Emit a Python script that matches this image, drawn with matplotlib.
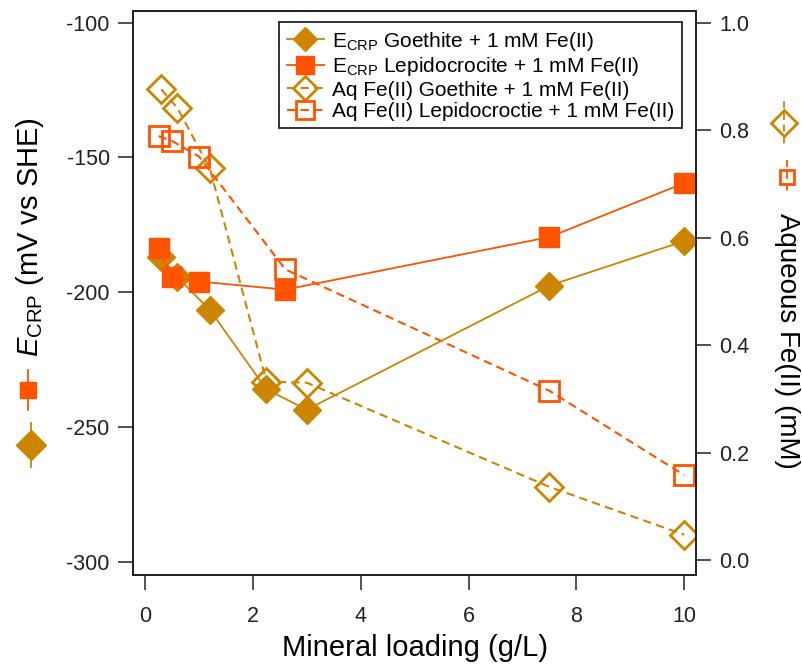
import numpy as np
import matplotlib
matplotlib.use("Agg")
import matplotlib.pyplot as plt
from matplotlib.lines import Line2D

# =========================
# Data
# =========================
goethite_loading = [0.3, 0.6, 1.2, 2.25, 3.0, 7.5, 10.0]
lepido_loading = [0.25, 0.5, 1.0, 2.6, 7.5, 10.0]

ecrp_goethite = [-187.0, -194.5, -206.5, -236.0, -243.5, -197.5, -181.0]
ecrp_lepido = [-183.7, -194.5, -196.0, -199.0, -179.5, -159.5]

aq_goethite = [0.876, 0.841, 0.729, 0.332, 0.330, 0.136, 0.047]
aq_lepido = [0.789, 0.780, 0.751, 0.541, 0.315, 0.158]

x_ticks = [0, 2, 4, 6, 8, 10]
left_ticks = [-300, -250, -200, -150, -100]
right_ticks = [0.0, 0.2, 0.4, 0.6, 0.8, 1.0]

# =========================
# Style
# =========================
GOLD = "#CC8500"
RED = "#FF5300"
DASH = (0, (4, 2.5))
W, H = 803, 667

plt.rcParams["font.family"] = ["Liberation Sans", "DejaVu Sans"]
plt.rcParams["mathtext.fontset"] = "custom"
plt.rcParams["mathtext.rm"] = "Liberation Sans"
plt.rcParams["mathtext.it"] = "Liberation Sans:italic"
plt.rcParams["axes.unicode_minus"] = False

fig = plt.figure(figsize=(W / 100, H / 100), dpi=100)
ax = fig.add_axes([133.3 / W, 1 - 575 / H, (696 - 133.3) / W, (575 - 11) / H])
ax2 = ax.twinx()

# aqueous Fe(II), right axis (hollow markers, dashed)
h3, = ax2.plot(goethite_loading, aq_goethite, color=GOLD, ls=DASH, lw=1.5,
               marker="D", ms=14, mfc="none", mec=GOLD, mew=2,
               label="Aq Fe(II) Goethite + 1 mM Fe(II)")
h4, = ax2.plot(lepido_loading, aq_lepido, color=RED, ls=DASH, lw=1.5,
               marker="s", ms=14.5, mfc="none", mec=RED, mew=2,
               label="Aq Fe(II) Lepidocroctie + 1 mM Fe(II)")

# E_CRP, left axis (filled markers, solid)
h1, = ax.plot(goethite_loading, ecrp_goethite, color=GOLD, lw=1.3,
              marker="D", ms=14, mfc=GOLD, mec=GOLD,
              label=r"E$_{\mathrm{CRP}}$ Goethite + 1 mM Fe(II)")
h2, = ax.plot(lepido_loading, ecrp_lepido, color=RED, lw=1.3,
              marker="s", ms=15, mfc=RED, mec=RED,
              label=r"E$_{\mathrm{CRP}}$ Lepidocrocite + 1 mM Fe(II)")

# left axis on top of the twin
ax.set_zorder(ax2.get_zorder() + 1)
ax.patch.set_visible(False)

ax.set_xlim(-0.22, 10.22)
ax.set_ylim(-304.8, -95.7)
ax2.set_ylim(-0.028, 1.022)

ax.set_xticks(x_ticks)
ax.set_yticks(left_ticks)
ax2.set_yticks(right_ticks)
ax2.set_yticklabels([f"{v:.1f}" for v in right_ticks])

for a in (ax, ax2):
    for sp in a.spines.values():
        sp.set_linewidth(1.3)
        sp.set_color("#222222")
ax.tick_params(axis="both", direction="out", length=11, width=1.1,
               labelsize=15.5, colors="#222222")
ax.tick_params(axis="x", pad=11)
ax.tick_params(axis="y", pad=6)
ax2.tick_params(axis="y", direction="out", length=11, width=1.1,
                labelsize=15.5, pad=6, colors="#222222")

ax.set_xlabel("Mineral loading (g/L)", fontsize=21, labelpad=5)

# axis titles with their own small keys
fig.text(30 / W, 1 - 237 / H, r"$\mathit{E}_{\mathrm{CRP}}$ (mV vs SHE)",
         rotation=90, fontsize=21, ha="center", va="center")
fig.text(787 / W, 1 - 341 / H, "Aqueous Fe(II) (mM)",
         rotation=-90, fontsize=20, ha="center", va="center")


def axis_key(x, y0, y1, color, marker, ms, filled, ls):
    ys = [1 - y0 / H, 1 - (y0 + y1) / 2 / H, 1 - y1 / H]
    fig.add_artist(Line2D([x / W] * 3, ys, transform=fig.transFigure,
                          color=color, lw=1.3, ls=ls, marker=marker,
                          markevery=[1], ms=ms, mew=2 if not filled else 1,
                          mfc=color if filled else "none", mec=color))


axis_key(28, 370, 410, RED, "s", 12, True, "-")
axis_key(31, 423, 467, GOLD, "D", 15, True, "-")
axis_key(784, 101, 145, GOLD, "D", 13, False, DASH)
axis_key(787, 160, 194, RED, "s", 10, False, DASH)

leg = ax.legend(handles=[h1, h2, h3, h4], loc="upper right",
                bbox_to_anchor=(0.975, 0.98), borderaxespad=0,
                fontsize=15, frameon=True, fancybox=False,
                edgecolor="#222222", framealpha=1, handlelength=1.8,
                handletextpad=0.4, labelspacing=0.12, borderpad=0.35,
                markerscale=0.9)
leg.get_frame().set_linewidth(1.3)

fig.savefig("out.png", dpi=100)
